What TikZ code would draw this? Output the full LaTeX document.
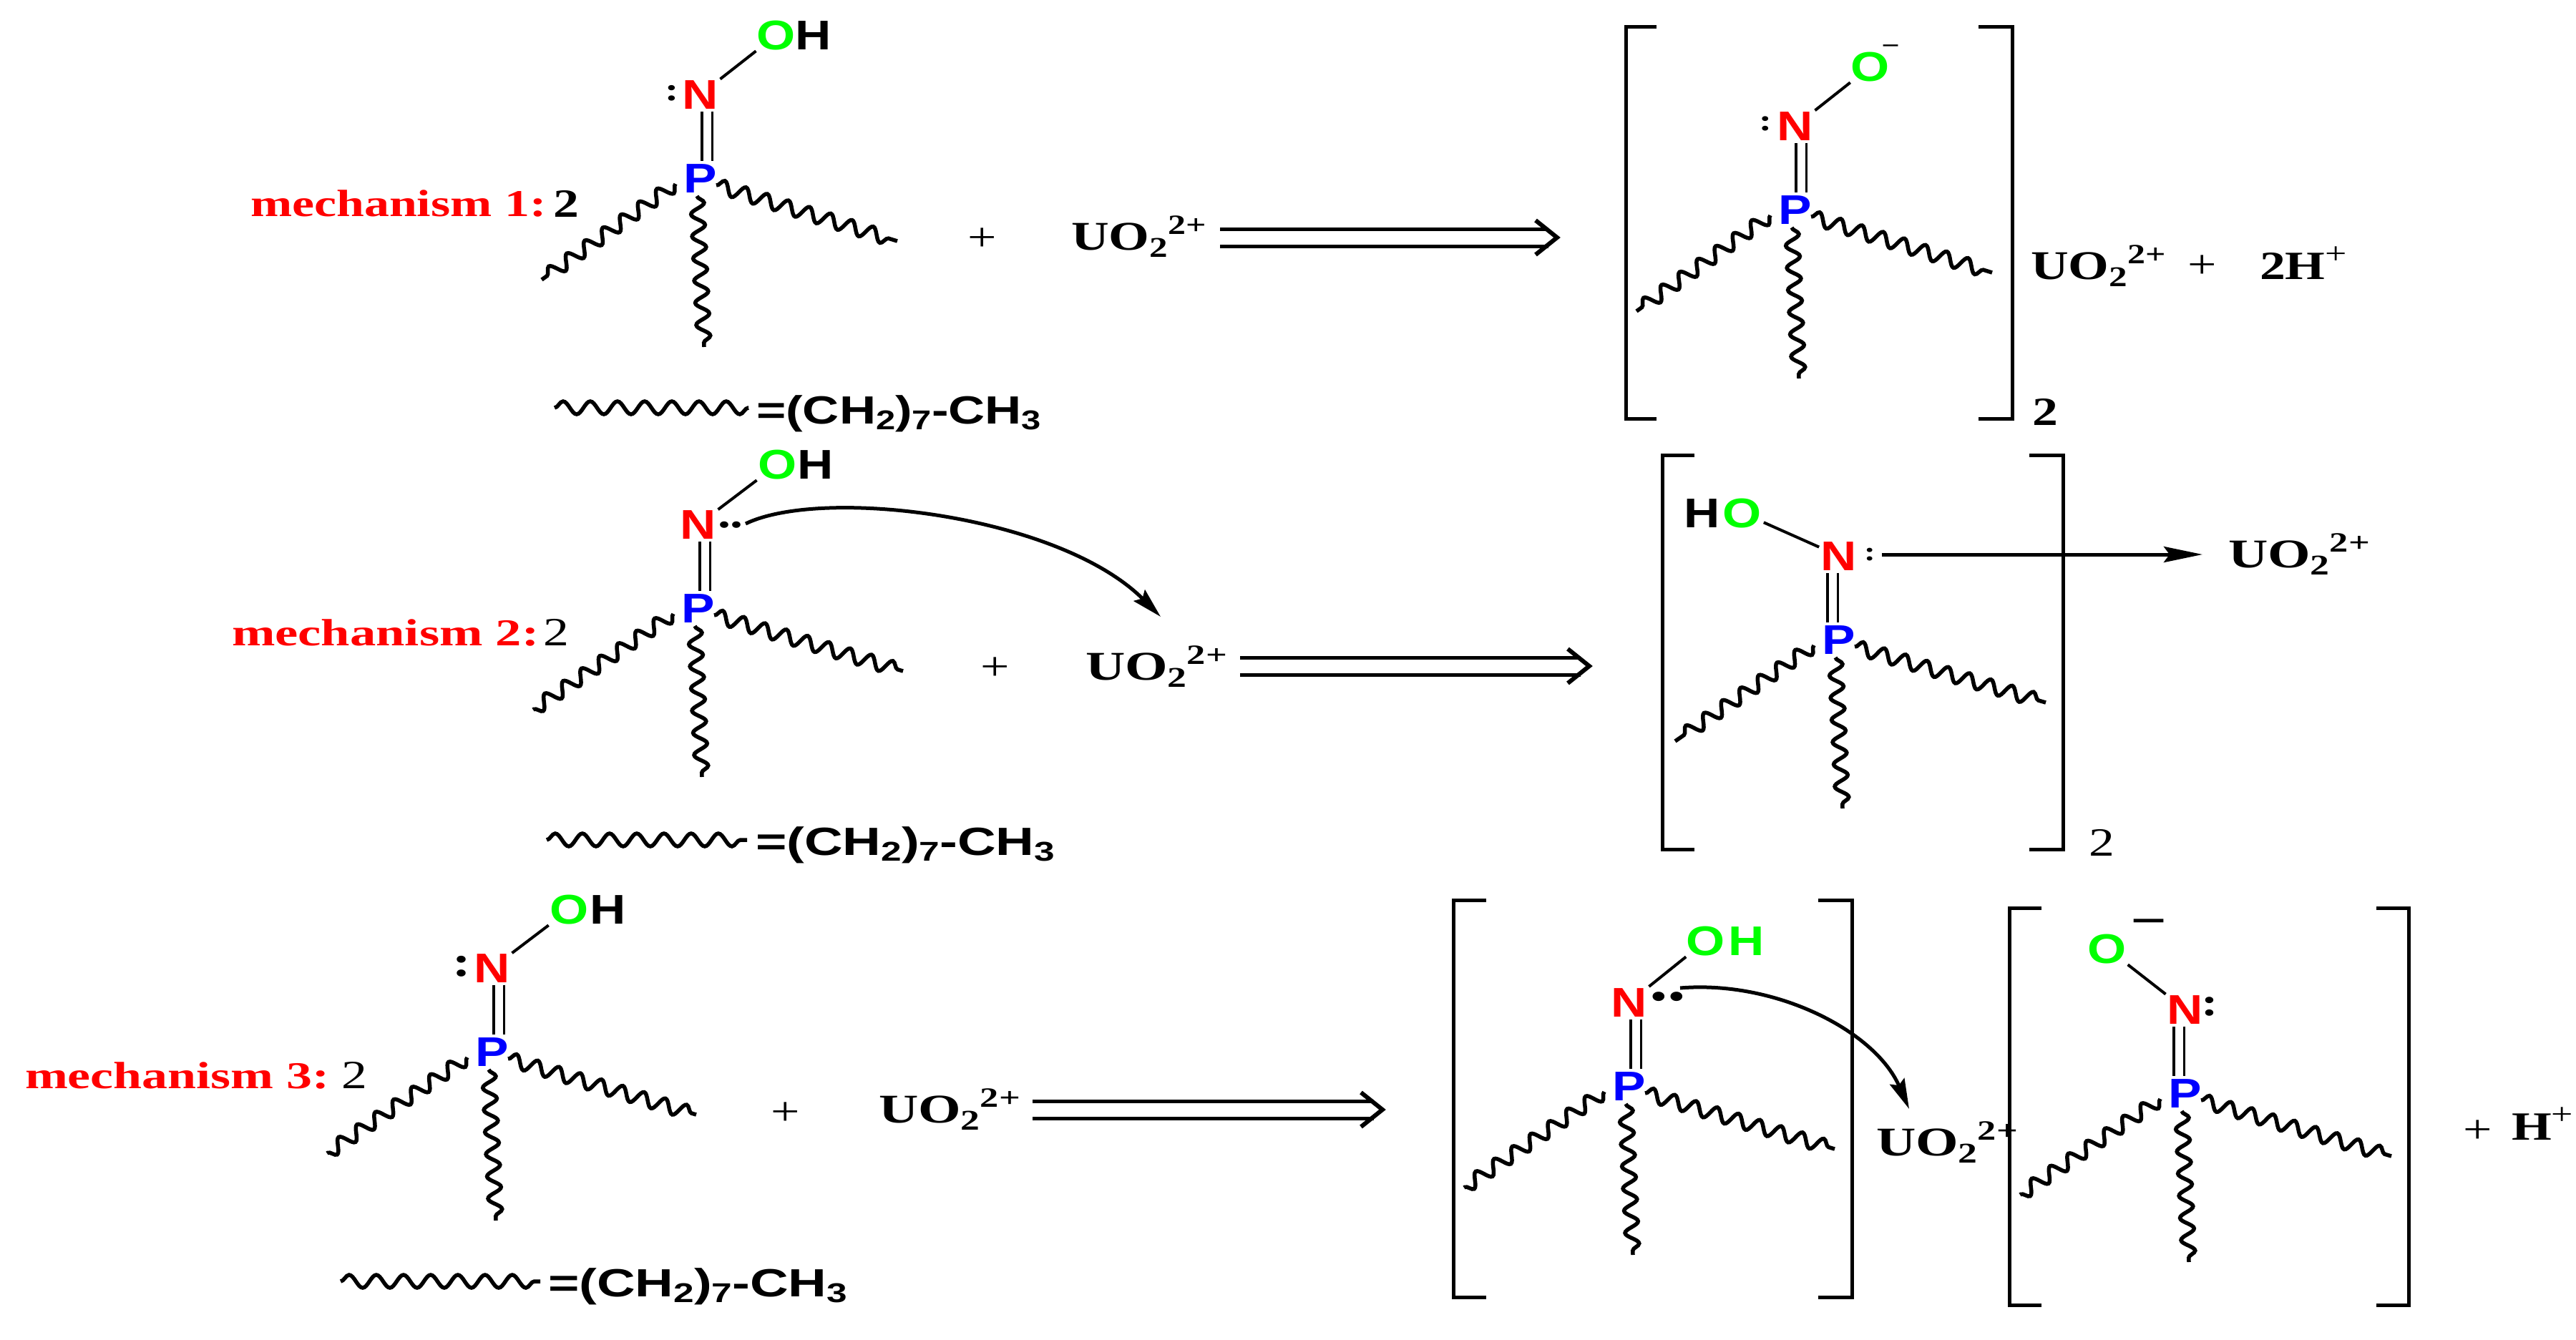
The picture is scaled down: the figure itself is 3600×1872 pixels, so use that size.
\documentclass[tikz,border=0pt]{standalone}
\usepackage{fontspec}
\usetikzlibrary{decorations.pathmorphing,arrows.meta}
\newfontfamily\tmsf[FakeStretch=1.28]{Liberation Serif}
\newfontfamily\arlf[FakeStretch=1.3]{Liberation Sans}
\newfontfamily\atmf[FakeStretch=1.2]{Liberation Sans}
\newcommand\fsz[1]{\fontsize{#1}{#1}\selectfont}
\definecolor{pblue}{RGB}{0,0,255}
\definecolor{nred}{RGB}{255,0,0}
\definecolor{ogreen}{RGB}{0,255,0}
\tikzset{
  atom/.style={font=\atmf\bfseries\fsz{58},inner sep=0pt,outer sep=0pt,text height=41pt,text depth=0pt,anchor=center},
  lp/.style={font=\tmsf\bfseries\fsz{#1},inner sep=0pt,outer sep=0pt,anchor=center},
  lab/.style={inner sep=0pt,outer sep=0pt,anchor=base west},
  serb/.style={font=\tmsf\bfseries\fsz{56}},
  serr/.style={font=\tmsf\fsz{56}},
  mech/.style={font=\tmsf\bfseries\fsz{53},text=nred},
  plusnode/.style={font=\tmsf\fsz{56},inner sep=0pt,outer sep=0pt,anchor=center},
  bond/.style={line width=4pt,shorten >=3pt,shorten <=3pt},
  dblbond/.style={double,double distance=11pt,line width=3.5pt},
  alkyl/.style={decorate,decoration={snake,segment length=31pt,amplitude=9.5pt},line width=5.5pt},
  legend/.style={decorate,decoration={snake,segment length=38pt,amplitude=9pt},line width=5.5pt},
  brk/.style={line width=5pt,miter limit=10},
  rxn/.style={double,double distance=19pt,line width=5pt},
  chev/.style={line width=6pt,line join=miter},
  curved/.style={line width=5pt,-{Stealth[length=42pt,width=22pt,inset=6pt]}},
  straightar/.style={line width=5pt,-{Stealth[length=54pt,width=22pt,inset=8pt]}},
}
% name, Px, Py, left end dx, right end dx, double-bond offset
\newcommand\mol[6]{%
  \node[atom,text=pblue] (#1P) at (#2,#3) {P};
  \node[atom,text=nred] (#1N) at (#2,#3-117) {N};
  \draw[dblbond] ([xshift=#6pt,yshift=-3pt]#1N.south) -- ([xshift=#6pt,yshift=4pt]#1P.north);
  \coordinate (#1La) at (#2-35,#3+8);
  \coordinate (#1Lb) at (#2+#4,#3+142);
  \coordinate (#1Ra) at (#2+22,#3+10);
  \coordinate (#1Rb) at (#2+#5,#3+88);
  \coordinate (#1Va) at (#2-5,#3+25);
  \coordinate (#1Vb) at (#2+5,#3+236);
  \draw[alkyl] (#1La) -- (#1Lb);
  \draw[alkyl] (#1Ra) -- (#1Rb);
  \draw[alkyl] (#1Va) -- (#1Vb);
}
% x left, x tick end left, x tick start right, x right, y top, y bottom
\newcommand\brkt[6]{%
  \draw[brk] (#2,#5) -- (#1,#5) -- (#1,#6) -- (#2,#6);
  \draw[brk] (#3,#5) -- (#4,#5) -- (#4,#6) -- (#3,#6);
}
% name, x start, x tip, y
\newcommand\rxnarrow[4]{%
  \coordinate (#1a) at (#2,#4);
  \coordinate (#1b) at (#3-16,#4);
  \coordinate (#1t) at (#3-4,#4);
  \coordinate (#1u) at (#3-34,#4-24);
  \coordinate (#1d) at (#3-34,#4+24);
  \draw[rxn] (#1a) -- (#1b);
  \draw[chev] (#1u) -- (#1t) -- (#1d);
}
\newcommand\UOtxt{\tmsf\bfseries\fsz{57}UO\raisebox{-10pt}{\fsz{40}2}\raisebox{22pt}{\fsz{39}2+}}
\newcommand\UOw{\scalebox{1.05}[1]{\UOtxt}}
\newcommand\CHtxt{\arlf\bfseries\fsz{55}=(CH\raisebox{-8pt}{\fsz{38}2})\raisebox{-8pt}{\fsz{38}7}-CH\raisebox{-8pt}{\fsz{38}3}}
\begin{document}
\begin{tikzpicture}[x=1pt,y=-1pt]
\fill[white] (0,0) rectangle (3600,1872);
\useasboundingbox (0,0) rectangle (3600,1872);

% ---------- mechanism 1 ----------
\node[lab,mech] (m1) at (350,302) {\scalebox{1.03}[1]{mechanism 1:}};
\node[lab,serb] (c1) at (773,303) {2};
\mol{a}{979}{249}{-222}{275}{9}
\node[atom,text=ogreen] (aO) at (1085,49) {O};
\node[atom] (aH) at (1137,49) {H};
\draw[bond] (aN) -- (aO);
\node[lp=45] (acol) at (939,130) {:};
\node[plusnode] (ap) at (1373,335) {+};
\node[lab] (auo) at (1497,349) {\UOtxt};
\rxnarrow{ra}{1705}{2180}{332}
\brkt{2272}{2315}{2765}{2812}{37}{585}
\mol{b}{2509}{293}{-222}{275}{8}
\node[atom,text=ogreen] (bO) at (2614,93) {O};
\node[lp=35] (bm) at (2642,69) {−};
\draw[bond] (bN) -- (bO);
\node[lp=42] (bcol) at (2467,173) {:};
\node[lab] (buo) at (2838,390) {\UOtxt};
\node[plusnode] (bp) at (3078,373) {+};
\node[lab,serb] (b2h) at (3158,390) {2H\raisebox{22pt}{\tmsf\mdseries\fsz{42}+}};
\node[lab,serb] (b2) at (2840,594) {2};
\coordinate (la1) at (775,570);
\coordinate (la2) at (1046,570);
\draw[legend] (la1) -- (la2);
\node[lab] (lat) at (1057,592) {\scalebox{0.99}[1]{\CHtxt}};

% ---------- mechanism 2 ----------
\node[lab,mech] (m2) at (324,902) {\scalebox{1.07}[1]{mechanism 2:}};
\node[lab,serr] (c2) at (759,902) {2};
\mol{c}{976}{850}{-231}{286}{9}
\node[atom,text=ogreen] (cO) at (1087,649) {O};
\node[atom] (cH) at (1140,649) {H};
\draw[bond] (cN) -- (cO);
\node[lp=56,anchor=base west] (cdots) at (1003,737) {..};
\coordinate (cs) at (1042,732);
\coordinate (ct) at (1622,862);
\draw[curved] (cs) .. controls (1150,680) and (1480,720) .. (ct);
\node[plusnode] (cp) at (1391,935) {+};
\node[lab] (cuo) at (1517,950) {\UOw};
\rxnarrow{rb}{1733}{2225}{931}
\brkt{2323}{2368}{2836}{2883}{636}{1187}
\mol{d}{2570}{894}{-229}{289}{-9}
\node[atom,text=ogreen] (dO) at (2435,717) {O};
\node[atom] (dH) at (2379,717) {H};
\draw[bond] (dO) -- (dN);
\node[lp=37] (dcol) at (2613,775) {:};
\coordinate (ds) at (2630,775);
\coordinate (dt) at (3078,775);
\draw[straightar] (ds) -- (dt);
\node[lab] (duo) at (3114,793) {\UOw};
\node[lab,serr] (d2) at (2919,1196) {2};
\coordinate (lb1) at (764,1174);
\coordinate (lb2) at (1044,1174);
\draw[legend] (lb1) -- (lb2);
\node[lab] (lbt) at (1056,1195) {\scalebox{1.04}[1]{\CHtxt}};

% ---------- mechanism 3 ----------
\node[lab,mech] (m3) at (35,1521) {\scalebox{1.06}[1]{mechanism 3:}};
\node[lab,serr] (c3) at (477,1521) {2};
\mol{e}{688}{1470}{-231}{285}{9}
\node[atom,text=ogreen] (eO) at (796,1271) {O};
\node[atom] (eH) at (850,1271) {H};
\draw[bond] (eN) -- (eO);
\node[lp=60] (ecol) at (645,1351) {:};
\node[plusnode] (ep) at (1098,1557) {+};
\node[lab] (euo) at (1228,1569) {\UOw};
\rxnarrow{rc}{1443}{1936}{1551}
\coordinate (le1) at (476,1791);
\coordinate (le2) at (755,1791);
\draw[legend] (le1) -- (le2);
\node[lab] (let) at (766,1812) {\scalebox{1.04}[1]{\CHtxt}};
\brkt{2031}{2077}{2541}{2588}{1258}{1813}
\mol{f}{2277}{1518}{-231}{287}{9}
\node[atom,text=ogreen] (fO) at (2384,1315) {O};
\node[atom,text=ogreen] (fH) at (2441,1315) {H};
\draw[bond] (fN) -- (fO);
\node[lp=80,anchor=base west] (fdots) at (2305,1398) {..};
\coordinate (fs) at (2348,1381);
\coordinate (ft) at (2668,1550);
\draw[curved] (fs) .. controls (2480,1370) and (2620,1440) .. (ft);
\node[lab] (fuo) at (2622,1615) {\UOw};
\brkt{2808}{2853}{3321}{3366}{1269}{1824}
\mol{g}{3054}{1528}{-231}{288}{-9}
\node[atom,text=ogreen] (gO) at (2945,1326) {O};
\node[lp=70] (gm) at (3003,1298) {−};
\draw[bond] (gN) -- (gO);
\node[lp=55] (gcol) at (3088,1407) {:};
\node[plusnode] (gp) at (3463,1582) {+};
\node[lab,serb] (gh) at (3510,1593) {H\raisebox{22pt}{\tmsf\mdseries\fsz{42}+}};
\end{tikzpicture}
\end{document}
